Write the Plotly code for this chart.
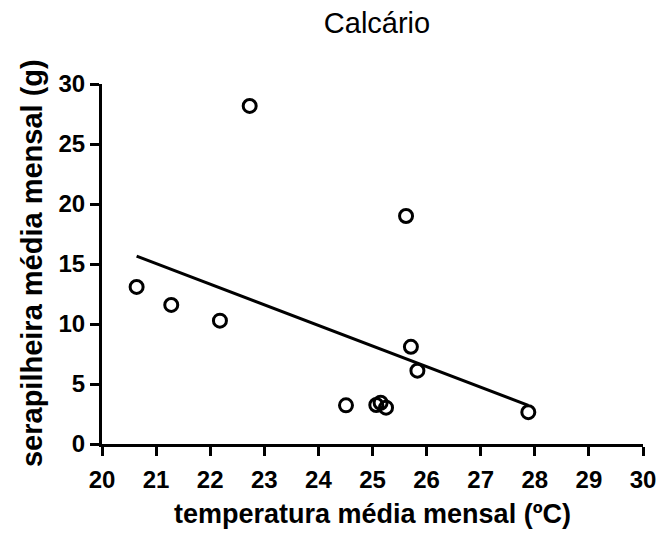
import numpy as np
import plotly.graph_objects as go

# Monthly data
temperatura = [20.64, 21.28, 22.18, 22.73, 24.51, 25.07, 25.15, 25.25, 25.62, 25.71, 25.83, 27.88]
serapilheira = [13.09, 11.59, 10.28, 28.17, 3.22, 3.25, 3.44, 3.03, 19.0, 8.10, 6.11, 2.65]

x_ticks = list(range(20, 31))
y_ticks = [0, 5, 10, 15, 20, 25, 30]

# Linear regression line
slope, intercept = np.polyfit(temperatura, serapilheira, 1)
fit_x = [min(temperatura), max(temperatura)]
fit_y = [slope * v + intercept for v in fit_x]

FONT = "Liberation Sans, Arial, sans-serif"

fig = go.Figure()
fig.add_trace(go.Scatter(
    x=fit_x, y=fit_y, mode="lines",
    line=dict(color="black", width=3),
    showlegend=False, hoverinfo="skip",
))
fig.add_trace(go.Scatter(
    x=temperatura, y=serapilheira, mode="markers",
    marker=dict(symbol="circle-open", size=13, color="black", line=dict(width=3, color="black")),
    showlegend=False, cliponaxis=False,
))

fig.update_layout(
    width=668, height=533,
    margin=dict(l=102, r=17, t=84, b=89),
    paper_bgcolor="white", plot_bgcolor="white",
    title=dict(text="Calcário", x=377/668, xanchor="center", y=1 - 23/533, yanchor="middle",
               font=dict(family=FONT, size=29, color="black")),
    xaxis=dict(
        range=[20, 30], tickmode="array", tickvals=x_ticks, ticktext=[str(v) for v in x_ticks],
        showline=True, linecolor="black", linewidth=3, ticks="outside", ticklen=9, tickwidth=3,
        tickcolor="black", showgrid=False, zeroline=False, ticklabelstandoff=3,
        tickfont=dict(family=FONT, size=24, color="black", weight="bold"),
    ),
    yaxis=dict(
        range=[0, 30], tickmode="array", tickvals=y_ticks, ticktext=[str(v) for v in y_ticks],
        showline=True, linecolor="black", linewidth=3, ticks="outside", ticklen=9, tickwidth=3,
        tickcolor="black", showgrid=False, zeroline=False,
        tickfont=dict(family=FONT, size=24, color="black", weight="bold"),
    ),
    annotations=[
        dict(text="<b>temperatura média mensal (ºC)</b>", xref="paper", yref="paper",
             x=0.5, y=(444 - 514) / 360, xanchor="center", yanchor="middle", showarrow=False,
             font=dict(family=FONT, size=27, color="black")),
        dict(text="<b>serapilheira média mensal (g)</b>", xref="paper", yref="paper",
             x=(31 - 102) / 549, y=(444 - 263) / 360, xanchor="center", yanchor="middle", textangle=-90,
             showarrow=False, font=dict(family=FONT, size=29, color="black")),
    ],
)

fig.write_html("out.html")
